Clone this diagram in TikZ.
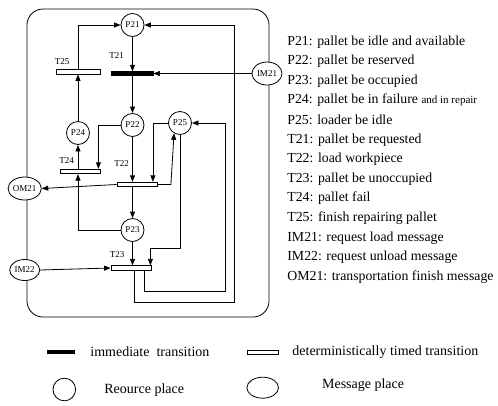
\documentclass[tikz,border=0pt]{standalone}
\usepackage{fontspec}
\setmainfont{Liberation Serif}
\usetikzlibrary{arrows.meta,calc,shapes.geometric}
\begin{document}
\begin{tikzpicture}[x=1pt,y=-1pt,
  line width=0.8pt,
  arr/.style={-{Triangle[length=6.5pt,width=5pt]}},
  place/.style={circle,draw,fill=white,minimum size=23pt,inner sep=0pt,font=\fontsize{9}{9}\selectfont},
  msg/.style={ellipse,draw,fill=white,minimum width=30pt,minimum height=23pt,inner sep=0pt,font=\fontsize{9}{9}\selectfont},
  ttrans/.style={rectangle,draw,fill=white,minimum width=40pt,minimum height=4.5pt,inner sep=0pt},
  itrans/.style={rectangle,draw,fill=black,minimum width=42pt,minimum height=3.5pt,inner sep=0pt},
  lbl/.style={inner sep=0pt,font=\fontsize{9}{9}\selectfont},
  desc/.style={anchor=west,inner sep=0pt,font=\fontsize{13.8}{14}\selectfont},
  leg/.style={anchor=west,inner sep=0pt,font=\fontsize{14}{14}\selectfont}]
\useasboundingbox (0,0) rectangle (498,405);
% outer frame
\draw[rounded corners=16pt] (27,9) rectangle (269,317);
% places
\node[place] (P21) at (132.5,25) {P21};
\node[place] (P22) at (132.5,125) {P22};
\node[place] (P23) at (132.5,230) {P23};
\node[place] (P24) at (78,133) {P24};
\node[place] (P25) at (180,123) {P25};
% message places
\node[msg] (IM21) at (267,73.5) {IM21};
\node[msg] (OM21) at (24.7,188.5) {OM21};
\node[msg,minimum height=21pt] (IM22) at (24.7,270) {IM22};
% transitions
\node[itrans] (T21) at (132,73.5) {};
\node[ttrans,minimum width=44pt] (T25) at (78,71.7) {};
\node[ttrans] (T24) at (80,171.5) {};
\node[ttrans] (T22) at (137,184.5) {};
\node[ttrans] (T23) at (131,268) {};
% transition labels
\node[lbl] (L21) at (116.7,56) {T21};
\node[lbl] (L25) at (62,62) {T25};
\node[lbl] (L24) at (66.7,160.7) {T24};
\node[lbl] (L22) at (121.7,164) {T22};
\node[lbl] (L23) at (117,254.3) {T23};
% arcs
\draw[arr] (P21.south) -- (P21.south |- T21.north);
\draw[arr] (T21.south -| P22.north) -- (P22.north);
\draw[arr] (IM21.west) -- (T21.east);
\draw[arr] (T25.north -| P24.north) |- (P21.west);
\draw[arr] (P24.north) -- (P24.north |- T25.south);
\draw[arr] (P22.west) -| ([xshift=-2pt]T24.north east);
\draw[arr] (T24.north -| P24.south) -- (P24.south);
\draw[arr] (P23.west) -| (T24.south -| P24.south);
\draw[arr] (P22.south) -- (P22.south |- T22.north);
\draw[arr] (P25.west) -| ([xshift=-4.5pt]T22.north east);
\draw[arr] (T22.east) -- ++(13.5,0) -- (P25.240);
\draw[arr] (T22.west) -- (OM21.east);
\draw[arr] (T22.south -| P23.north) -- (P23.north);
\draw[arr] (P23.south) -- (P23.south |- T23.north);
\draw[arr] ([xshift=0.7pt]P25.south) -- ++(0,113) -| ([xshift=-1pt]T23.north east);
\draw[arr] (IM22.east) -- (T23.west);
\draw[arr] ([xshift=13pt]T23.south) -- ++(0,21) -- ++(81,0) |- (P25.east);
\draw[arr] ([xshift=3pt]T23.south) -- ++(0,32) -- ++(100,0) |- (P21.east);
% description
\node[desc] (d1) at (287,41.7) {P21: pallet be idle and available};
\node[desc] (d2) at (287,61.3) {P22: pallet be reserved};
\node[desc] (d3) at (287,80.9) {P23: pallet be occupied};
\node[desc] (d4) at (287,100.5) {P24: pallet be in failure {\fontsize{11}{11}\selectfont and in repair}};
\node[desc] (d5) at (287,120.1) {P25: loader be idle};
\node[desc] (d6) at (287,139.7) {T21: pallet be requested};
\node[desc] (d7) at (287,159.3) {T22: load workpiece};
\node[desc] (d8) at (287,178.9) {T23: pallet be unoccupied};
\node[desc] (d9) at (287,198.5) {T24: pallet fail};
\node[desc] (d10) at (287,218.1) {T25: finish repairing pallet};
\node[desc] (d11) at (287,237.7) {IM21: request load message};
\node[desc] (d12) at (287,257.3) {IM22: request unload message};
\node[desc] (d13) at (287,276.9) {OM21: transportation finish message};
% legend
\node[itrans,minimum width=27pt] (g1) at (61.3,352) {};
\node[leg] (g1t) at (90,352) {immediate\ \ transition};
\node[ttrans,minimum width=31pt,minimum height=4pt] (g2) at (262.5,352) {};
\node[leg] (g2t) at (292,352) {deterministically timed transition};
\node[place,minimum size=22.6pt] (g3) at (64.3,389.5) {};
\node[leg] (g3t) at (104,390) {Reource place};
\node[msg,minimum width=31.6pt,minimum height=21pt] (g4) at (262.7,387.7) {};
\node[leg] (g4t) at (321.7,385) {Message place};
\end{tikzpicture}
\end{document}
